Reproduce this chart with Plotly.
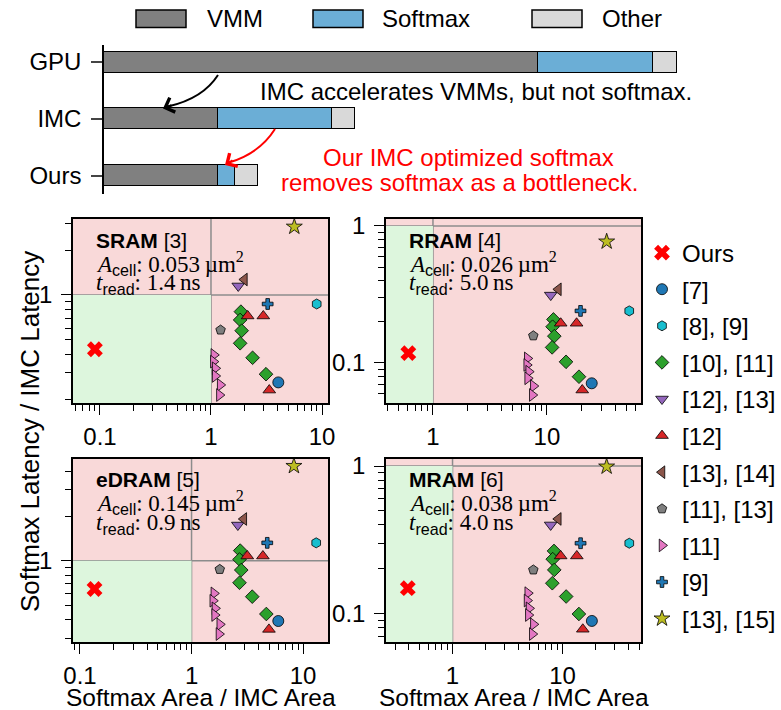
import plotly.graph_objects as go

W, H = 781, 710
SANS = "Liberation Sans, Arial, sans-serif"
SERIF = "Liberation Serif, Times New Roman, serif"

# ---------------- top bar chart data (relative runtime, GPU total = 100) ----------------
bar_systems = ["GPU", "IMC", "Ours"]
vmm_time = [75.7, 19.9, 19.9]
softmax_time = [20.1, 19.9, 3.0]
other_time = [4.2, 4.0, 4.0]
bar_colors = {"VMM": "#808080", "Softmax": "#6baed6", "Other": "#d9d9d9"}

# ---------------- scatter panels ----------------
panel_names = ["SRAM", "RRAM", "eDRAM", "MRAM"]
panel_refs = ["[3]", "[4]", "[5]", "[6]"]
cell_area = ["0.053", "0.026", "0.145", "0.038"]
read_time = ["1.4", "5.0", "0.9", "4.0"]

series_labels = ["Ours", "[7]", "[8], [9]", "[10], [11]", "[12], [13]", "[12]",
                 "[13], [14]", "[11], [13]", "[11]", "[9]", "[13], [15]"]

# x = Softmax Area / IMC Area, y = Softmax Latency / IMC Latency ; one sub-list per panel
ours_x = [[0.090], [0.608], [0.135], [0.392]]
ours_y = [[0.432], [0.118], [0.645], [0.148]]
ref7_x = [[4.04], [24.7], [5.99], [18.5]]
ref7_y = [[0.259], [0.0711], [0.393], [0.0887]]
ref8_9_x = [[8.96], [52.7], [13.1], [40.5]]
ref8_9_y = [[0.87], [0.240], [1.32], [0.299]]
ref10_11_x = [[1.86, 1.83, 1.89, 1.83, 2.37, 3.13],
              [11.4, 11.2, 11.6, 11.1, 14.7, 19.1],
              [2.73, 2.69, 2.79, 2.69, 3.50, 4.68],
              [8.37, 8.15, 8.42, 8.08, 10.8, 14.1]]
ref10_11_y = [[0.773, 0.680, 0.576, 0.474, 0.379, 0.294],
              [0.208, 0.184, 0.157, 0.130, 0.102, 0.0794],
              [1.17, 1.02, 0.866, 0.711, 0.573, 0.438],
              [0.265, 0.233, 0.197, 0.160, 0.130, 0.0989]]
ref12_13_x = [[1.76], [10.8], [2.60], [7.81]]
ref12_13_y = [[1.15], [0.313], [1.74], [0.398]]
ref12_x = [[2.14, 2.96, 3.35], [13.2, 18.2, 20.4], [3.16, 4.36, 4.94], [9.63, 13.5, 15.3]]
ref12_y = [[0.723, 0.723, 0.230], [0.195, 0.195, 0.0635], [1.076, 1.076, 0.345], [0.245, 0.245, 0.0779]]
ref13_14_x = [[2.0], [12.6], [2.94], [9.16]]
ref13_14_y = [[1.27], [0.345], [1.91], [0.437]]
ref11_13_x = [[1.22], [7.59], [1.79], [5.43]]
ref11_13_y = [[0.582], [0.158], [0.875], [0.197]]
ref11_x = [[1.06, 1.05, 1.09, 1.09, 1.21, 1.19],
           [6.72, 6.64, 6.91, 6.77, 7.59, 7.43],
           [1.585, 1.55, 1.62, 1.61, 1.79, 1.76],
           [4.83, 4.76, 4.96, 4.89, 5.43, 5.31]]
ref11_y = [[0.396, 0.357, 0.322, 0.286, 0.249, 0.213],
           [0.108, 0.0967, 0.0864, 0.0773, 0.0679, 0.0584],
           [0.603, 0.538, 0.478, 0.431, 0.373, 0.321],
           [0.137, 0.122, 0.108, 0.0973, 0.0842, 0.0723]]
ref9_x = [[3.24], [19.7], [4.77], [14.6]]
ref9_y = [[0.87], [0.240], [1.32], [0.299]]
ref13_15_x = [[5.63], [33.4], [8.27], [25.2]]
ref13_15_y = [[2.87], [0.769], [4.34], [0.99]]

series_x = [ours_x, ref7_x, ref8_9_x, ref10_11_x, ref12_13_x, ref12_x,
            ref13_14_x, ref11_13_x, ref11_x, ref9_x, ref13_15_x]
series_y = [ours_y, ref7_y, ref8_9_y, ref10_11_y, ref12_13_y, ref12_y,
            ref13_14_y, ref11_13_y, ref11_y, ref9_y, ref13_15_y]
series_symbol = ["x", "circle", "hexagon", "diamond", "triangle-down", "triangle-up",
                 "triangle-left", "pentagon", "triangle-right", "cross", "star"]
series_color = ["#ff0000", "#1f77b4", "#17becf", "#2ca02c", "#9467bd", "#d62728",
                "#8c564b", "#7f7f7f", "#e377c2", "#1f77b4", "#bcbd22"]
series_size = [14, 11, 10, 10.5, 11, 11, 11, 10, 11, 9, 12]

# ---------------- layout geometry (pixels) ----------------
def px(x):
    return x / W

def py(y):
    return 1 - y / H

panel_px_x = [(73, 328), (386, 641), (73, 328), (386, 641)]
panel_px_y = [(219, 403), (219, 403), (459, 642), (459, 642)]
panel_xrange = [(-1.243, 1.054), (-0.412, 1.825), (-1.0625, 1.223), (-0.605, 1.714)]
panel_yrange = [(-0.725, 0.510), (-1.292, 0.051), (-0.547, 0.685), (-1.195, 0.0475)]

FS = 24

fig = go.Figure()

# ---- bars ----
for name, vals in [("VMM", vmm_time), ("Softmax", softmax_time), ("Other", other_time)]:
    fig.add_trace(go.Bar(
        x=vals, y=[0, 1, 2], orientation="h", name=name, width=0.37,
        marker=dict(color=bar_colors[name], line=dict(color="black", width=1.5)),
        xaxis="x", yaxis="y", showlegend=False, hoverinfo="skip"))

# ---- scatter panels ----
for p in range(4):
    ax = p + 2
    for s in range(len(series_labels)):
        fig.add_trace(go.Scatter(
            x=series_x[s][p], y=series_y[s][p], mode="markers",
            name=series_labels[s], legendgroup=series_labels[s], showlegend=(p == 0),
            marker=dict(symbol=series_symbol[s], color=series_color[s], size=series_size[s],
                        line=dict(color="black", width=0 if s == 0 else 0.8)),
            xaxis=f"x{ax}", yaxis=f"y{ax}", hoverinfo="skip"))

layout = dict(
    width=W, height=H, autosize=False,
    margin=dict(l=0, r=0, t=0, b=0, autoexpand=False),
    paper_bgcolor="white", plot_bgcolor="rgba(0,0,0,0)",
    barmode="stack", bargap=0,
    font=dict(family=SANS, size=FS, color="black"),
    showlegend=True,
    legend=dict(x=1, xanchor="right", y=py(230.5), yanchor="top",
                font=dict(family=SANS, size=FS), tracegroupgap=2.4,
                bgcolor="rgba(0,0,0,0)", itemsizing="trace", borderwidth=0),
    xaxis=dict(domain=[px(104), 0.9], range=[0, 104.5], visible=False, fixedrange=True,
               automargin=False),
    yaxis=dict(domain=[py(194), py(45)], range=[2.32, -0.3], tickvals=[0, 1, 2],
               ticktext=bar_systems, ticks="outside", ticklen=11, tickwidth=1.5,
               showline=True, linecolor="black", linewidth=1.5, showgrid=False,
               zeroline=False, anchor="x", ticklabelstandoff=5, automargin=False,
               tickfont=dict(size=FS)),
)

major = [0.1, 1, 10]
major_txt = ["0.1", "1", "10"]
minor_vals = [m * 10 ** k for k in range(-2, 3) for m in range(2, 10)]

for p in range(4):
    ax = p + 2
    axis_common = dict(type="log", showline=True, linecolor="black", linewidth=1.5,
                       mirror=True, showgrid=False, zeroline=False, ticks="outside",
                       ticklen=10, tickwidth=1.3, tickcolor="black", automargin=False,
                       tickvals=major, ticktext=major_txt, tickfont=dict(size=FS),
                       minor=dict(ticks="outside", ticklen=6, tickwidth=1.1,
                                  tickcolor="black", tickvals=minor_vals, showgrid=False))
    layout[f"xaxis{ax}"] = dict(axis_common, domain=[px(panel_px_x[p][0]), px(panel_px_x[p][1])],
                                range=list(panel_xrange[p]), anchor=f"y{ax}",
                                ticklabelstandoff=1)
    layout[f"yaxis{ax}"] = dict(axis_common, domain=[py(panel_px_y[p][1]), py(panel_px_y[p][0])],
                                range=list(panel_yrange[p]), anchor=f"x{ax}",
                                ticklabelstandoff=4)

fig.update_layout(**layout)

shapes = []
annotations = []
PINK = "#f9d9d9"
GREEN = "#ddf6dd"
for p in range(4):
    ax = p + 2
    shapes.append(dict(type="rect", xref=f"x{ax} domain", yref=f"y{ax} domain",
                       x0=0, x1=1, y0=0, y1=1, fillcolor=PINK, line=dict(width=0), layer="below"))
    shapes.append(dict(type="rect", xref=f"x{ax}", yref=f"y{ax}",
                       x0=1e-3, x1=1, y0=1e-3, y1=1, fillcolor=GREEN, line=dict(width=0), layer="below"))
    shapes.append(dict(type="line", xref=f"x{ax}", yref=f"y{ax} domain",
                       x0=1, x1=1, y0=0, y1=1, line=dict(color="#8c8c8c", width=1.5), layer="below"))
    shapes.append(dict(type="line", xref=f"x{ax} domain", yref=f"y{ax}",
                       x0=0, x1=1, y0=1, y1=1, line=dict(color="#8c8c8c", width=1.5), layer="below"))
    # panel texts
    annotations.append(dict(xref=f"x{ax} domain", yref=f"y{ax} domain", x=21 / 255, y=1 - 21 / 184,
                            xanchor="left", yanchor="middle", showarrow=False,
                            text=f"<b>{panel_names[p]}</b> {panel_refs[p]}",
                            font=dict(family=SANS, size=21)))
    annotations.append(dict(xref=f"x{ax} domain", yref=f"y{ax} domain", x=21 / 255, y=1 - 44 / 184,
                            xanchor="left", yanchor="middle", showarrow=False,
                            text=f"<i>A</i><sub><span style='font-family:Liberation Sans'>cell</span></sub>: {cell_area[p]}\u2009µm<sup>2</sup>",
                            font=dict(family=SERIF, size=23)))
    annotations.append(dict(xref=f"x{ax} domain", yref=f"y{ax} domain", x=21 / 255, y=1 - 65 / 184,
                            xanchor="left", yanchor="middle", showarrow=False,
                            text=f"<i>t</i><sub><span style='font-family:Liberation Sans'>read</span></sub>: {read_time[p]}\u2009ns",
                            font=dict(family=SERIF, size=23)))

# axis titles
annotations.append(dict(xref="paper", yref="paper", x=px(30), y=py(432), text="Softmax Latency / IMC Latency",
                        textangle=-90, showarrow=False, xanchor="center", yanchor="middle",
                        font=dict(size=26)))
for cx in [200.5, 513.5]:
    annotations.append(dict(xref="paper", yref="paper", x=px(cx), y=py(697), text="Softmax Area / IMC Area",
                            showarrow=False, xanchor="center", yanchor="middle", font=dict(size=24.5)))

# top legend (manual, wide boxes)
for (bx, tx, name) in [(136, 205, "VMM"), (313, 380, "Softmax"), (532, 600, "Other")]:
    shapes.append(dict(type="rect", xref="paper", yref="paper", x0=px(bx), x1=px(bx + 50),
                       y0=py(27.5), y1=py(10), fillcolor=bar_colors[name],
                       line=dict(color="black", width=1.5)))
    annotations.append(dict(xref="paper", yref="paper", x=px(tx), y=py(19), text=name,
                            showarrow=False, xanchor="left", yanchor="middle", font=dict(size=FS)))

# explanatory texts
annotations.append(dict(xref="paper", yref="paper", x=px(476), y=py(91),
                        text="IMC accelerates VMMs, but not softmax.", showarrow=False,
                        xanchor="center", yanchor="middle", font=dict(size=FS, color="black")))
annotations.append(dict(xref="paper", yref="paper", x=px(468), y=py(157),
                        text="Our IMC optimized softmax",
                        showarrow=False, xanchor="center", yanchor="middle",
                        font=dict(size=FS, color="#ff0000")))
annotations.append(dict(xref="paper", yref="paper", x=px(460), y=py(182.5),
                        text="removes softmax as a bottleneck.",
                        showarrow=False, xanchor="center", yanchor="middle",
                        font=dict(size=FS, color="#ff0000")))

# curved arrows
def qpath(p0, c, p2):
    return (f"M {px(p0[0])},{py(p0[1])} Q {px(c[0])},{py(c[1])} {px(p2[0])},{py(p2[1])}")

shapes.append(dict(type="path", xref="paper", yref="paper",
                   path=qpath((218, 75), (203, 98.5), (168, 106.5)), line=dict(color="black", width=2)))
annotations.append(dict(xref="paper", yref="paper", x=px(163), y=py(108.5), ax=10, ay=-3.8,
                        showarrow=True, arrowhead=4, arrowsize=1.5, arrowwidth=2, arrowcolor="black", text=""))
shapes.append(dict(type="path", xref="paper", yref="paper",
                   path=qpath((275, 129), (259.5, 153.5), (229, 162.5)), line=dict(color="#ff0000", width=2)))
annotations.append(dict(xref="paper", yref="paper", x=px(225), y=py(165), ax=9, ay=-5.5,
                        showarrow=True, arrowhead=4, arrowsize=1.5, arrowwidth=2, arrowcolor="#ff0000", text=""))

fig.update_layout(shapes=shapes, annotations=annotations)
fig.write_html("out.html", config={"displayModeBar": False},
               post_script="document.body.style.margin='0';document.body.style.padding='0';"
                           "document.body.style.overflow='hidden';")
